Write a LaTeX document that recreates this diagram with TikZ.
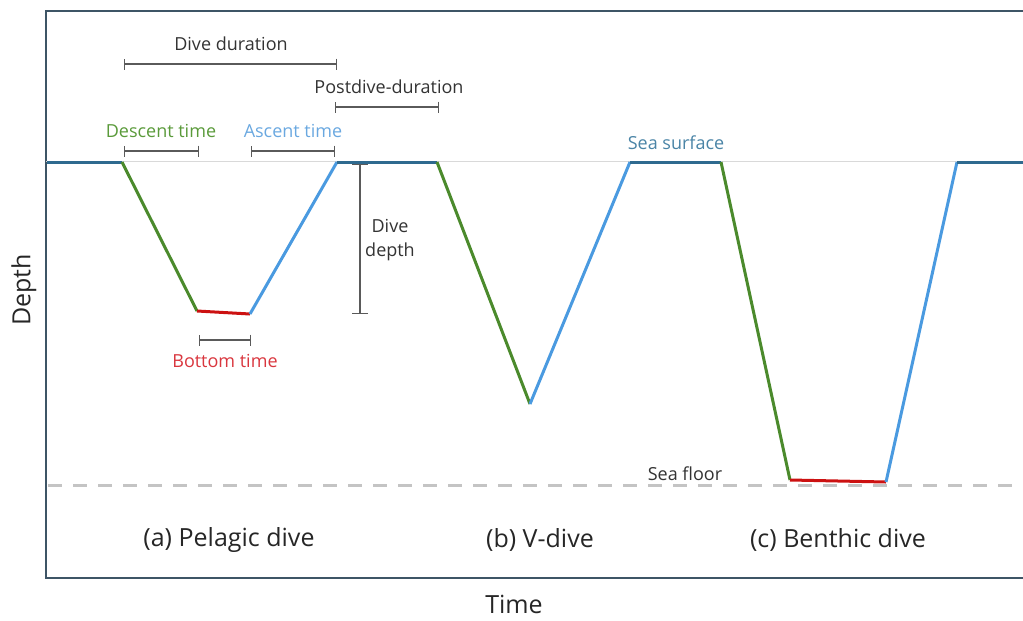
\documentclass[tikz,border=0pt]{standalone}
\usepackage{fontspec}
\setmainfont{Open Sans}
\usetikzlibrary{arrows.meta}
\definecolor{framec}{HTML}{3E5566}
\definecolor{surfc}{HTML}{2F6A8F}
\definecolor{descc}{HTML}{4B8A2C}
\definecolor{ascc}{HTML}{4A9AE0}
\definecolor{botc}{HTML}{CC1111}
\definecolor{desct}{HTML}{5A9A3A}
\definecolor{asct}{HTML}{6AA8E0}
\definecolor{bott}{HTML}{D9363E}
\definecolor{seat}{HTML}{4A84A6}
\definecolor{barc}{HTML}{5A5A5A}
\definecolor{floorc}{HTML}{C4C4C4}
\tikzset{
  prof/.style={line width=3pt, line join=round},
  span/.style={draw=barc, line width=1.3pt, {Bar[width=11pt,line width=1.3pt]}-{Bar[width=11pt,line width=1.3pt]}},
  small/.style={font=\fontsize{18}{20}\selectfont, inner sep=0pt},
  big/.style={font=\fontsize{25}{29}\selectfont, inner sep=0pt, text=black!85},
}
\begin{document}
\begin{tikzpicture}[x=1pt,y=-1pt]
\useasboundingbox (0,0) rectangle (1023,621);
% frame
\draw[framec, line width=2pt] (1023,11) -- (46,11) -- (46,578) -- (1023,578);
% surface and floor
\draw[black!15, line width=0.8pt] (46,161) -- (1023,161);
\draw[floorc, line width=3pt, dash pattern=on 14pt off 11pt] (48,485) -- (1023,485);
% profile points
\coordinate (s0) at (47,162);
\coordinate (a1) at (122,162);
\coordinate (a2) at (197,311);
\coordinate (a3) at (250,314);
\coordinate (a4) at (337,162);
\coordinate (b1) at (437,162);
\coordinate (b2) at (530,404);
\coordinate (b3) at (630,162);
\coordinate (c1) at (721,162);
\coordinate (c2) at (790,480);
\coordinate (c3) at (886,482);
\coordinate (c4) at (957,162);
\coordinate (e0) at (1023,162);
\draw[prof, surfc] (s0) -- (a1);
\draw[prof, descc] (a1) -- (a2);
\draw[prof, botc] (a2) -- (a3);
\draw[prof, ascc] (a3) -- (a4);
\draw[prof, surfc] (a4) -- (b1);
\draw[prof, descc] (b1) -- (b2);
\draw[prof, ascc] (b2) -- (b3);
\draw[prof, surfc] (b3) -- (c1);
\draw[prof, descc] (c1) -- (c2);
\draw[prof, botc] (c2) -- (c3);
\draw[prof, ascc] (c3) -- (c4);
\draw[prof, surfc] (c4) -- (e0);
% spans
\coordinate (dd1) at (124,64); \coordinate (dd2) at (337,64);
\coordinate (pd1) at (335,107); \coordinate (pd2) at (439,107);
\coordinate (de1) at (124,151); \coordinate (de2) at (199,151);
\coordinate (as1) at (251,151); \coordinate (as2) at (335,151);
\coordinate (bt1) at (199,340); \coordinate (bt2) at (251,340);
\coordinate (dp1) at (360,164); \coordinate (dp2) at (360,314);
\draw[span] (dd1) -- (dd2);
\draw[span] (pd1) -- (pd2);
\draw[span] (de1) -- (de2);
\draw[span] (as1) -- (as2);
\draw[span] (bt1) -- (bt2);
\draw[draw=barc, line width=1.3pt, {Bar[width=16pt,line width=1.3pt]}-{Bar[width=16pt,line width=1.3pt]}] (dp1) -- (dp2);
% labels
\node[small, text=black!80] (tdd) at (231,44) {Dive duration};
\node[small, text=black!80] (tpd) at (389,87) {Postdive-duration};
\node[small, text=desct] (tde) at (161,131) {Descent time};
\node[small, text=asct] (tas) at (293,131) {Ascent time};
\node[small, text=bott] (tbt) at (225,361) {Bottom time};
\node[small, text=black!80, align=center, font=\fontsize{18}{24}\selectfont] (tdp) at (390,240) {Dive\\depth};
\node[small, text=seat] (tss) at (676,143) {Sea surface};
\node[small, text=black!80] (tsf) at (685,474) {Sea floor};
\node[big] (la) at (229,540) {(a) Pelagic dive};
\node[big] (lb) at (540,540) {(b) V-dive};
\node[big] (lc) at (838,540) {(c) Benthic dive};
\node[big, rotate=90] (ldepth) at (24,290) {Depth};
\node[big] (ltime) at (514,604) {Time};
\end{tikzpicture}
\end{document}
